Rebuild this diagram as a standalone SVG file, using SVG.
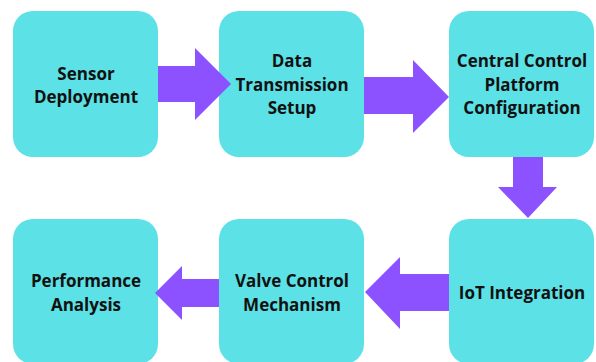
<svg xmlns="http://www.w3.org/2000/svg" width="596" height="362" viewBox="0 0 596 362">
<style>
.box{fill:#5ce1e6}
.arr{fill:#8c52ff}
text{font-family:"Open Sans","Liberation Sans",sans-serif;font-weight:700;font-size:17px;fill:#111;text-anchor:middle}
</style>
<rect width="596" height="362" fill="#fff"/>
<g id="n1"><rect class="box" x="13" y="11" width="145" height="146" rx="20"/><text x="86" y="80">Sensor</text><text x="86" y="103">Deployment</text></g>
<g id="n2"><rect class="box" x="219" y="11" width="145" height="146" rx="20"/><text x="292" y="67">Data</text><text x="292" y="91">Transmission</text><text x="292" y="114">Setup</text></g>
<g id="n3"><rect class="box" x="449" y="11" width="145" height="146" rx="20"/><text x="522" y="67">Central Control</text><text x="522" y="91">Platform</text><text x="522" y="114">Configuration</text></g>
<g id="n4"><rect class="box" x="449" y="219" width="145" height="145" rx="20"/><text x="522" y="299">IoT Integration</text></g>
<g id="n5"><rect class="box" x="219" y="219" width="145" height="145" rx="20"/><text x="292" y="287">Valve Control</text><text x="292" y="311">Mechanism</text></g>
<g id="n6"><rect class="box" x="13" y="219" width="145" height="145" rx="20"/><text x="86" y="287">Performance</text><text x="86" y="311">Analysis</text></g>
<g id="connectors">
<polygon class="arr" points="158,66 195,66 195,48 231,84 195,120 195,102 158,102"/>
<polygon class="arr" points="364,77 413,77 413,60 449,97 413,133 413,114 364,114"/>
<polygon class="arr" points="513,157 543,157 543,187 557,187 528,218 498,187 513,187"/>
<polygon class="arr" points="449,274 400,274 400,257 365,292 400,329 400,311 449,311"/>
<polygon class="arr" points="219,279 182,279 182,266 155,293 182,320 182,307 219,307"/>
</g>
</svg>
